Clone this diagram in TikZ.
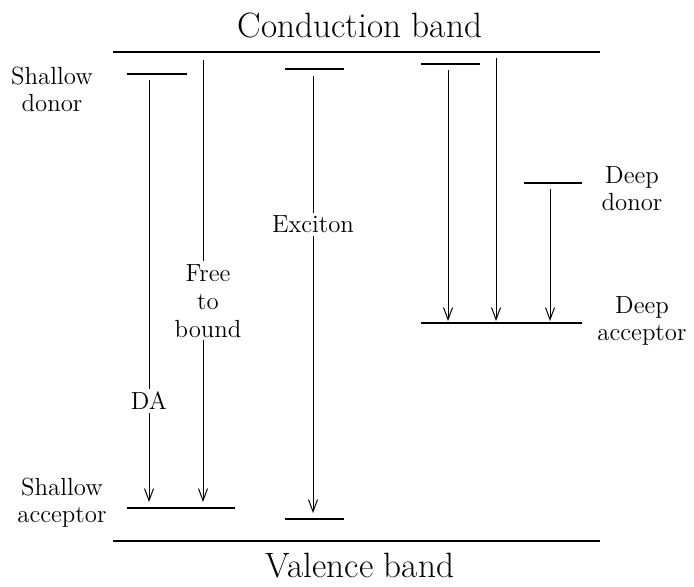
\documentclass[tikz,border=0pt]{standalone}
\usetikzlibrary{arrows.meta}

\tikzset{
  band/.style={draw=black,line width=1pt},
  level/.style={draw=black,line width=1pt},
  trans/.style={-{Straight Barb[length=6pt,width=4.5pt]},draw=black,line width=0.5pt},
  lbl/.style={fill=white,inner sep=1.5pt,align=center,font=\fontsize{12.4}{14}\selectfont},
  side/.style={align=center,font=\fontsize{12.4}{13.5}\selectfont},
  title/.style={font=\fontsize{17.6}{20}\selectfont}
}

\begin{document}
\begin{tikzpicture}[x=0.5pt,y=-0.5pt]
\useasboundingbox (0,0) rectangle (694,587);
\node[title] (cb) at (360,25) {Conduction band};
\node[title] (vb) at (360,566) {Valence band};
\coordinate (cb0) at (113,52);
\coordinate (cb1) at (600,52);
\coordinate (vb0) at (113,541);
\coordinate (vb1) at (600,541);
\coordinate (sd0) at (127,74);
\coordinate (sd1) at (187,74);
\coordinate (sa0) at (127,508);
\coordinate (sa1) at (235,508);
\coordinate (ex0) at (285,69);
\coordinate (ex1) at (344,69);
\coordinate (eb0) at (285,519);
\coordinate (eb1) at (344,519);
\coordinate (dt0) at (421,64);
\coordinate (dt1) at (480,64);
\coordinate (dd0) at (524,183);
\coordinate (dd1) at (582,183);
\coordinate (da0) at (421,323);
\coordinate (da1) at (582,323);
\node[side] (sdl) at (52,89) {Shallow\\donor};
\node[side] (sal) at (62,503) {Shallow\\acceptor};
\node[side] (ddl) at (632,189) {Deep\\donor};
\node[side] (dal) at (642,321) {Deep\\acceptor};

\coordinate (t1a) at (149,80);
\coordinate (t1b) at (149,502);
\coordinate (t2a) at (203,60);
\coordinate (t2b) at (203,502);
\coordinate (t3a) at (313,76);
\coordinate (t3b) at (313,513);
\coordinate (t4a) at (448,70);
\coordinate (t4b) at (448,321);
\coordinate (t5a) at (496,58);
\coordinate (t5b) at (496,321);
\coordinate (t6a) at (550,189);
\coordinate (t6b) at (550,321);

\draw [band] (cb0) -- (cb1);
\draw [band] (vb0) -- (vb1);
\draw [level] (sd0) -- (sd1);
\draw [level] (sa0) -- (sa1);
\draw [level] (ex0) -- (ex1);
\draw [level] (eb0) -- (eb1);
\draw [level] (dt0) -- (dt1);
\draw [level] (dd0) -- (dd1);
\draw [level] (da0) -- (da1);

\draw [trans] (t1a) -- node[lbl,pos=0.76] {DA} (t1b);
\draw [trans] (t2a) -- node[lbl,pos=0.545,xshift=2.5pt] {Free\\to\\bound} (t2b);
\draw [trans] (t3a) -- node[lbl,pos=0.34] {Exciton} (t3b);
\draw [trans] (t4a) -- (t4b);
\draw [trans] (t5a) -- (t5b);
\draw [trans] (t6a) -- (t6b);
\end{tikzpicture}
\end{document}
